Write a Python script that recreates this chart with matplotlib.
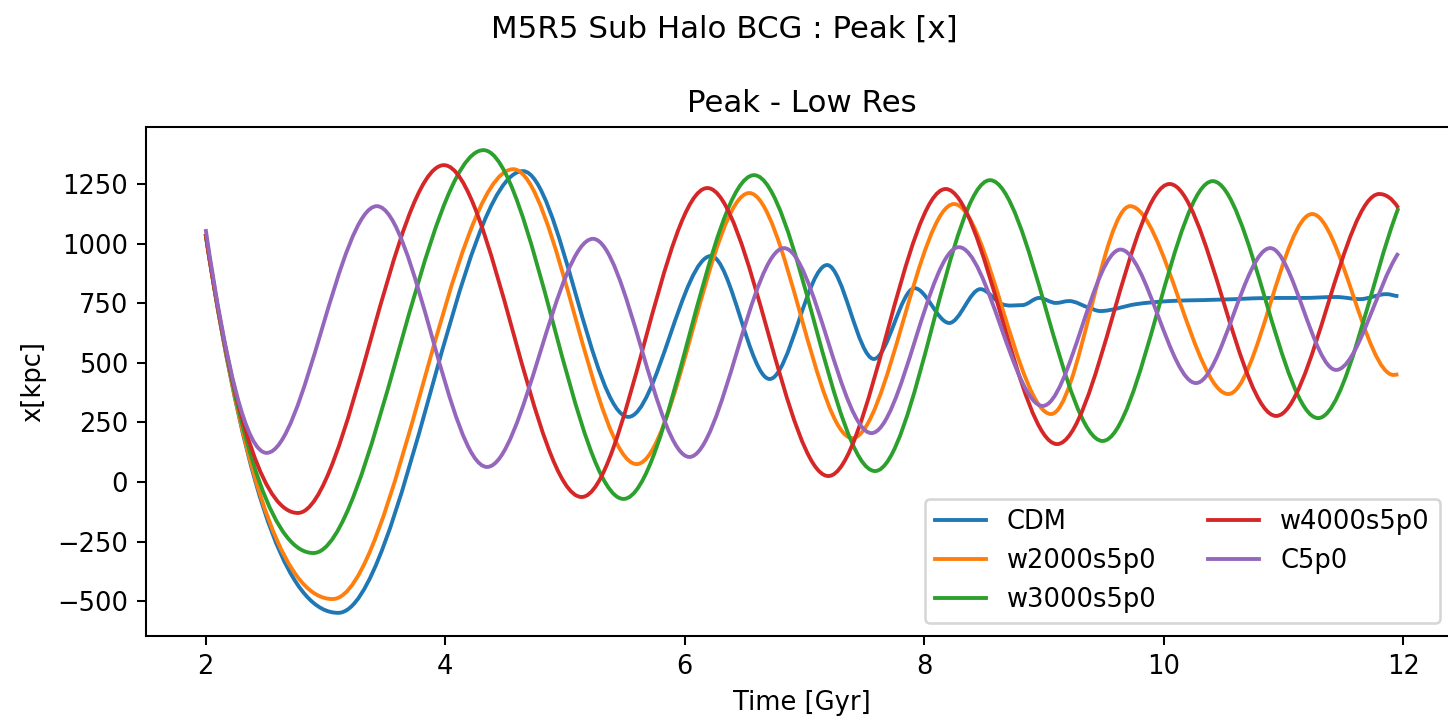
import matplotlib
matplotlib.use("Agg")
import matplotlib.pyplot as plt
from matplotlib.path import Path
from matplotlib.patches import PathPatch
from matplotlib.lines import Line2D

# ── key points (turning points + a few extra) ─────────────────────────────
# time in Gyr, x in kpc
cdm_t = [2.00, 3.107, 4.65, 5.53, 6.22, 6.71, 7.19, 7.58, 7.92, 8.21, 8.47,
         8.65, 8.82, 8.96, 9.10, 9.21, 9.38, 9.47, 9.77, 10.05, 10.33, 10.60,
         10.89, 11.16, 11.44, 11.64, 11.86, 11.96]
cdm_x = [1040, -549, 1304, 273, 948, 432, 910, 516, 813, 667, 809,
         746, 742, 772, 751, 759, 730, 717, 746, 759, 763, 767,
         772, 772, 776, 767, 788, 780]

w2000_t = [2.00, 3.06, 4.57, 5.60, 6.54, 7.40, 8.25, 9.06, 9.72, 10.54,
           11.24, 11.92, 11.96]
w2000_x = [1040, -491, 1312, 75, 1212, 184, 1166, 285, 1157, 369,
           1124, 449, 452]

w3000_t = [2.00, 2.90, 4.32, 5.49, 6.58, 7.59, 8.55, 9.49, 10.41, 11.29, 11.96]
w3000_x = [1040, -298, 1392, -71, 1287, 46, 1266, 172, 1262, 268, 1149]

w4000_t = [2.00, 2.77, 3.99, 5.14, 6.19, 7.20, 8.18, 9.11, 10.05, 10.94,
           11.80, 11.96]
w4000_x = [1040, -130, 1329, -63, 1233, 25, 1229, 159, 1250, 277,
           1208, 1149]

c5_t = [2.00, 2.51, 3.43, 4.35, 5.235, 6.04, 6.83, 7.56, 8.29, 8.99, 9.64,
        10.27, 10.89, 11.44, 11.96]
c5_x = [1061, 122, 1157, 63, 1020, 105, 981, 205, 985, 319, 975,
        415, 981, 470, 960]

# slope (kpc/Gyr) of each curve at its first and last point
start_slope = [-3300, -3300, -3300, -3300, -3400]
end_slope = [0, 60, 1300, -800, 750]

labels = ["CDM", "w2000s5p0", "w3000s5p0", "w4000s5p0", "C5p0"]
series = [(cdm_t, cdm_x), (w2000_t, w2000_x), (w3000_t, w3000_x),
          (w4000_t, w4000_x), (c5_t, c5_x)]
colors = ["tab:blue", "tab:orange", "tab:green", "tab:red", "tab:purple"]


def tangents(t, x, m0, m1):
    m = [m0]
    for i in range(1, len(t) - 1):
        if (x[i] - x[i-1]) * (x[i+1] - x[i]) <= 0:
            m.append(0.0)           # turning point
        else:
            m.append((x[i+1] - x[i-1]) / (t[i+1] - t[i-1]))
    m.append(m1)
    return m


def smooth_path(t, x, m0, m1):
    """Hermite curve through the key points, as cubic Bezier segments."""
    m = tangents(t, x, m0, m1)
    verts = [(t[0], x[0])]
    codes = [Path.MOVETO]
    for i in range(len(t) - 1):
        h = t[i+1] - t[i]
        verts += [(t[i] + h/3, x[i] + m[i]*h/3),
                  (t[i+1] - h/3, x[i+1] - m[i+1]*h/3),
                  (t[i+1], x[i+1])]
        codes += [Path.CURVE4] * 3
    return Path(verts, codes)


DPI = 185
fig = plt.figure(figsize=(1448/DPI, 719/DPI), dpi=DPI)
# axes runs a little past the right edge, as in the (cropped) original
ax = fig.add_axes([146/1448, 83/719, 1312/1448, 509/719])

handles = []
for (t, x), lab, c, m0, m1 in zip(series, labels, colors, start_slope, end_slope):
    ax.add_patch(PathPatch(smooth_path(t, x, m0, m1), facecolor="none",
                           edgecolor=c, lw=1.5))
    handles.append(Line2D([], [], color=c, lw=1.5, label=lab))

ax.autoscale_view()
ax.set_xlabel("Time [Gyr]")
ax.set_ylabel("x[kpc]")
ax.set_title("Peak - Low Res")
ax.legend(handles=handles, loc="lower right", ncol=2,
          bbox_to_anchor=(0.996, 0.0), borderaxespad=0.5)
fig.suptitle("M5R5 Sub Halo BCG : Peak [x]")

fig.savefig("out.png", dpi=DPI)
